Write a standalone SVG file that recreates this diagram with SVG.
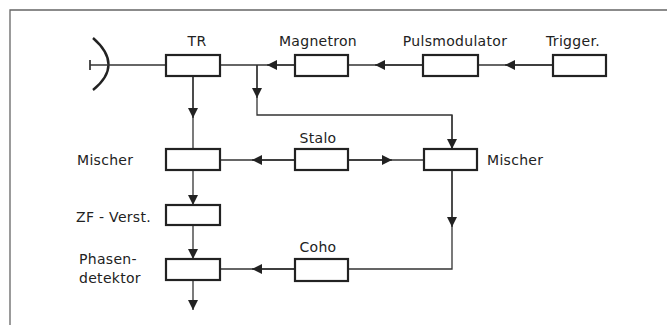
<svg xmlns="http://www.w3.org/2000/svg" width="667" height="325" viewBox="0 0 667 325">
<defs>
<marker id="ah" viewBox="0 0 10 10" refX="10" refY="5" markerWidth="10" markerHeight="10" markerUnits="userSpaceOnUse" orient="auto">
<path d="M0,0 L10,5 L0,10 Z" fill="#222"/>
</marker>
</defs>
<style>
.box{fill:#fff;stroke:#222;stroke-width:2.2}
.ln{fill:none;stroke:#333;stroke-width:1.3}
.t{font-family:"DejaVu Sans","Liberation Sans",sans-serif;font-size:14px;fill:#222;letter-spacing:0.3px}
.frame{fill:none;stroke:#666;stroke-width:1.3}
</style>
<rect width="667" height="325" fill="#fff"/>
<polyline class="frame" points="10,325 10,10 667,10"/>
<g id="antenna">
<path d="M93,38 Q124,65 93,90" fill="none" stroke="#222" stroke-width="2.4"/>
<line x1="90" y1="60" x2="90" y2="70" stroke="#222" stroke-width="1.6"/>
</g>
<g id="connectors">
<line class="ln" x1="90" y1="65" x2="166" y2="65"/>
<line class="ln" x1="295" y1="65" x2="220" y2="65"/>
<line class="ln" x1="295" y1="65" x2="267" y2="65" marker-end="url(#ah)"/>
<line class="ln" x1="423" y1="65" x2="348" y2="65"/>
<line class="ln" x1="423" y1="65" x2="375" y2="65" marker-end="url(#ah)"/>
<line class="ln" x1="553" y1="65" x2="478" y2="65"/>
<line class="ln" x1="553" y1="65" x2="505" y2="65" marker-end="url(#ah)"/>
<polyline class="ln" points="257,65 257,115 452,115 452,149"/>
<line class="ln" x1="257" y1="65" x2="257" y2="98" marker-end="url(#ah)"/>
<line class="ln" x1="452" y1="115" x2="452" y2="149" marker-end="url(#ah)"/>
<line class="ln" x1="193" y1="76" x2="193" y2="149"/>
<line class="ln" x1="193" y1="76" x2="193" y2="118" marker-end="url(#ah)"/>
<line class="ln" x1="295" y1="160" x2="220" y2="160"/>
<line class="ln" x1="295" y1="160" x2="252" y2="160" marker-end="url(#ah)"/>
<line class="ln" x1="348" y1="160" x2="424" y2="160"/>
<line class="ln" x1="348" y1="160" x2="392" y2="160" marker-end="url(#ah)"/>
<line class="ln" x1="193" y1="170" x2="193" y2="205" marker-end="url(#ah)"/>
<line class="ln" x1="193" y1="225" x2="193" y2="259" marker-end="url(#ah)"/>
<line class="ln" x1="193" y1="280" x2="193" y2="310" marker-end="url(#ah)"/>
<polyline class="ln" points="452,170 452,269 348,269"/>
<line class="ln" x1="452" y1="170" x2="452" y2="227" marker-end="url(#ah)"/>
<line class="ln" x1="295" y1="269" x2="220" y2="269"/>
<line class="ln" x1="295" y1="269" x2="252" y2="269" marker-end="url(#ah)"/>
</g>
<g id="tr"><rect class="box" x="166" y="55" width="54" height="21"/><text class="t" x="197" y="46" text-anchor="middle">TR</text></g>
<g id="magnetron"><rect class="box" x="295" y="55" width="53" height="21"/><text class="t" x="318" y="46" text-anchor="middle">Magnetron</text></g>
<g id="pulsmodulator"><rect class="box" x="423" y="55" width="55" height="21"/><text class="t" x="455" y="46" text-anchor="middle">Pulsmodulator</text></g>
<g id="trigger"><rect class="box" x="553" y="55" width="53" height="21"/><text class="t" x="573" y="46" text-anchor="middle">Trigger.</text></g>
<g id="mischer1"><rect class="box" x="166" y="149" width="54" height="21"/><text class="t" x="77" y="165">Mischer</text></g>
<g id="stalo"><rect class="box" x="295" y="149" width="53" height="21"/><text class="t" x="318" y="143" text-anchor="middle">Stalo</text></g>
<g id="mischer2"><rect class="box" x="424" y="149" width="53" height="21"/><text class="t" x="487" y="165">Mischer</text></g>
<g id="zf"><rect class="box" x="166" y="205" width="54" height="20"/><text class="t" x="76" y="222">ZF - Verst.</text></g>
<g id="coho"><rect class="box" x="295" y="259" width="53" height="22"/><text class="t" x="318" y="252" text-anchor="middle">Coho</text></g>
<g id="phasendetektor"><rect class="box" x="166" y="259" width="54" height="21"/><text class="t" x="79" y="264">Phasen-</text><text class="t" x="79" y="283">detektor</text></g>
</svg>
